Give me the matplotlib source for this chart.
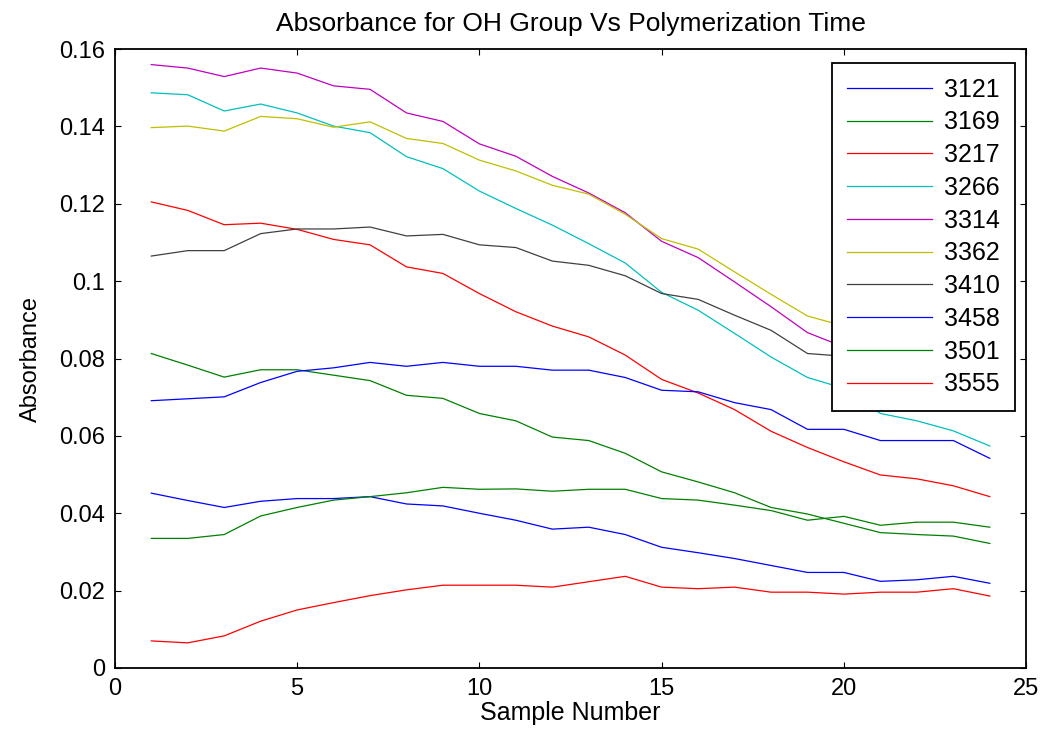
import numpy as np
import matplotlib
matplotlib.use('Agg')
import matplotlib.pyplot as plt

plt.rcParams['font.family'] = ['Liberation Sans', 'DejaVu Sans']

# %% data
samples = list(range(1, 25))
wavenumbers = ['3121', '3169', '3217', '3266', '3314', '3362', '3410', '3458', '3501', '3555']

s3121 = [0.0452, 0.0433, 0.0415, 0.0431, 0.0438, 0.0438, 0.0443, 0.0424, 0.0419, 0.0400,
         0.0382, 0.0359, 0.0364, 0.0345, 0.0312, 0.0298, 0.0283, 0.0265, 0.0247, 0.0247,
         0.0224, 0.0228, 0.0237, 0.0219]
s3169 = [0.0813, 0.0783, 0.0752, 0.0771, 0.0771, 0.0757, 0.0743, 0.0705, 0.0697, 0.0658,
         0.0639, 0.0597, 0.0588, 0.0555, 0.0507, 0.0481, 0.0453, 0.0415, 0.0398, 0.0374,
         0.0350, 0.0345, 0.0341, 0.0322]
s3217 = [0.1205, 0.1183, 0.1146, 0.1150, 0.1134, 0.1108, 0.1094, 0.1037, 0.1020, 0.0968,
         0.0921, 0.0884, 0.0856, 0.0809, 0.0746, 0.0711, 0.0668, 0.0612, 0.0570, 0.0533,
         0.0499, 0.0489, 0.0471, 0.0443]
s3266 = [0.1487, 0.1482, 0.1440, 0.1458, 0.1435, 0.1401, 0.1384, 0.1322, 0.1291, 0.1233,
         0.1188, 0.1145, 0.1097, 0.1047, 0.0971, 0.0925, 0.0865, 0.0804, 0.0751, 0.0723,
         0.0658, 0.0639, 0.0613, 0.0574]
# last points of 3314, 3362, 3410 sit behind the legend box
s3314 = [0.1560, 0.1551, 0.1529, 0.1551, 0.1538, 0.1505, 0.1496, 0.1435, 0.1413, 0.1355,
         0.1323, 0.1271, 0.1228, 0.1177, 0.1103, 0.1061, 0.0998, 0.0934, 0.0867, 0.0830,
         0.0800, 0.0770, 0.0740, 0.0710]
s3362 = [0.1397, 0.1401, 0.1388, 0.1426, 0.1420, 0.1398, 0.1412, 0.1369, 0.1356, 0.1313,
         0.1285, 0.1248, 0.1225, 0.1173, 0.1110, 0.1083, 0.1024, 0.0966, 0.0910, 0.0884,
         0.0850, 0.0820, 0.0790, 0.0760]
s3410 = [0.1065, 0.1079, 0.1079, 0.1123, 0.1135, 0.1135, 0.1140, 0.1117, 0.1121, 0.1094,
         0.1087, 0.1052, 0.1041, 0.1014, 0.0968, 0.0953, 0.0912, 0.0873, 0.0813, 0.0806,
         0.0790, 0.0780, 0.0760, 0.0740]
s3458 = [0.0691, 0.0696, 0.0701, 0.0738, 0.0767, 0.0776, 0.0790, 0.0780, 0.0790, 0.0780,
         0.0780, 0.0770, 0.0770, 0.0751, 0.0718, 0.0714, 0.0686, 0.0668, 0.0617, 0.0617,
         0.0588, 0.0588, 0.0588, 0.0542]
s3501 = [0.0335, 0.0335, 0.0345, 0.0393, 0.0415, 0.0434, 0.0443, 0.0453, 0.0467, 0.0462,
         0.0463, 0.0457, 0.0462, 0.0462, 0.0438, 0.0434, 0.0421, 0.0407, 0.0382, 0.0392,
         0.0369, 0.0377, 0.0377, 0.0364]
s3555 = [0.0070, 0.0065, 0.0083, 0.0121, 0.0150, 0.0169, 0.0187, 0.0202, 0.0214, 0.0214,
         0.0214, 0.0209, 0.0223, 0.0237, 0.0209, 0.0205, 0.0209, 0.0196, 0.0196, 0.0191,
         0.0196, 0.0196, 0.0205, 0.0186]

series = [s3121, s3169, s3217, s3266, s3314, s3362, s3410, s3458, s3501, s3555]

xticks = [0, 5, 10, 15, 20, 25]
yticks = [0, 0.02, 0.04, 0.06, 0.08, 0.1, 0.12, 0.14, 0.16]
ytick_labels = ['0', '0.02', '0.04', '0.06', '0.08', '0.1', '0.12', '0.14', '0.16']

# old matlab colour order, cycles after 7
colors = [(0, 0, 1), (0, 0.5, 0), (1, 0, 0), (0, 0.75, 0.75),
          (0.75, 0, 0.75), (0.75, 0.75, 0), (0.25, 0.25, 0.25)]

# %% plot
fig = plt.figure(figsize=(10.44, 7.33), dpi=100)
ax = fig.add_axes([0.110, 0.0887, 0.873, 0.8443])

for i in range(len(series)):
    ax.plot(samples, series[i], color=colors[i % 7], lw=0.9, label=wavenumbers[i])

ax.set_xlim(0, 25)
ax.set_ylim(0, 0.16)
ax.set_xticks(xticks)
ax.set_yticks(yticks)
ax.set_yticklabels(ytick_labels)
ax.tick_params(direction='in', length=4, top=True, right=True, labelsize=17, pad=7)
for sp in ax.spines.values():
    sp.set_linewidth(1.3)

ax.set_title('Absorbance for OH Group Vs Polymerization Time', fontsize=19, pad=13)
ax.set_xlabel('Sample Number', fontsize=18, labelpad=1)
ax.set_ylabel('Absorbance', fontsize=17, labelpad=12)

leg = ax.legend(loc='upper right', bbox_to_anchor=(0.988, 0.978), fontsize=18,
                frameon=True, fancybox=False, framealpha=1, edgecolor='black',
                handlelength=3.4, handletextpad=0.5, labelspacing=0.35,
                borderpad=0.6, borderaxespad=0)
leg.get_frame().set_linewidth(1.3)

plt.savefig('out.png', dpi=100)
